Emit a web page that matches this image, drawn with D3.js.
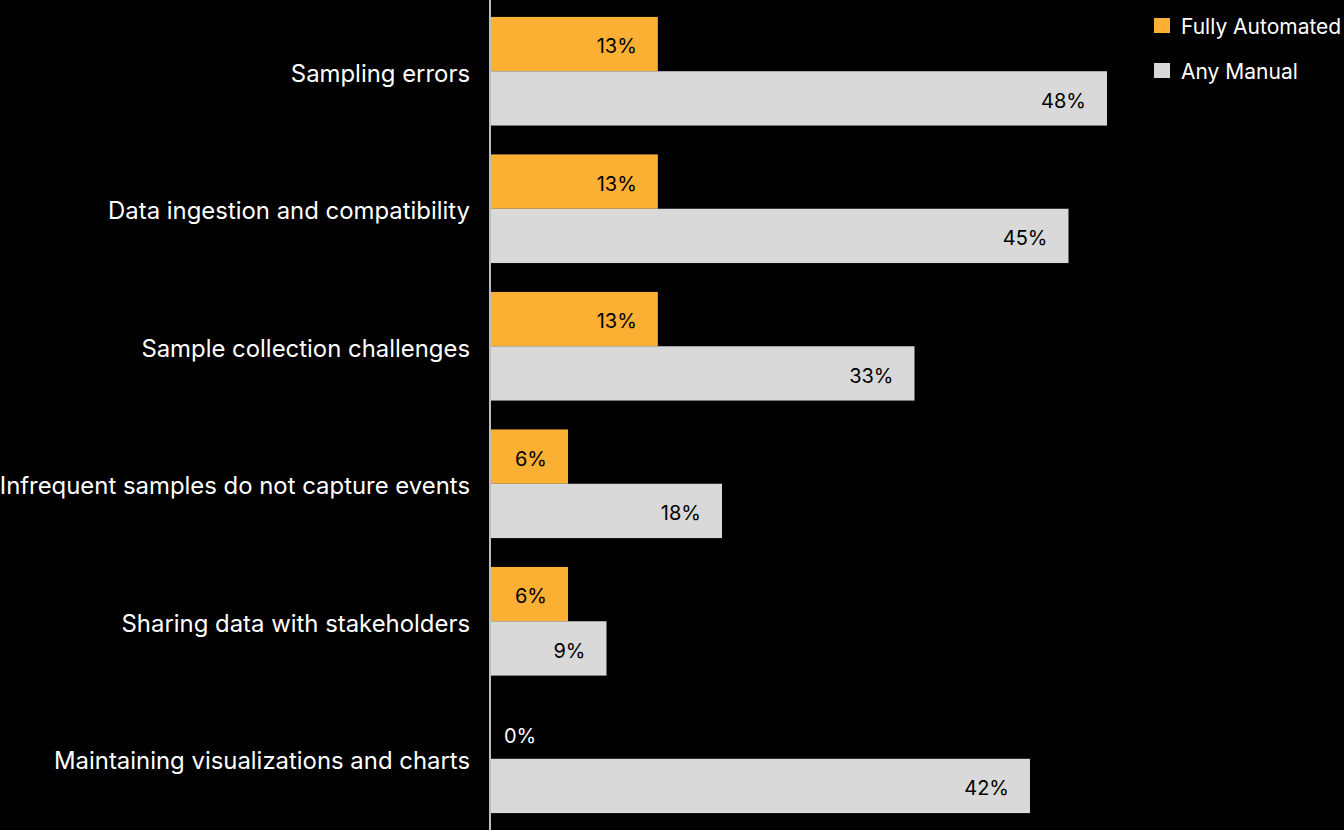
<!DOCTYPE html>
<html><head><meta charset="utf-8">
<script src="https://cdn.jsdelivr.net/npm/d3@7"></script>
<style>html,body{margin:0;padding:0;background:#000;}svg{display:block;font-family:Inter,"Noto Sans",sans-serif;}</style>
</head><body>
<svg id="chart" width="1344" height="830"></svg>
<script>
const categories = ["Sampling errors","Data ingestion and compatibility","Sample collection challenges","Infrequent samples do not capture events","Sharing data with stakeholders","Maintaining visualizations and charts"];
const seriesNames = ["Fully Automated","Any Manual"];
const fullyAutomated = [13,13,13,6,6,0];
const anyManual = [48,45,33,18,9,42];
const colors = ["#FBB034","#D9D9D9"];

const svg = d3.select("#chart");
const W = 1344, H = 830;
svg.append("rect").attr("width",W).attr("height",H).attr("fill","#000");

const data = categories.map((c,i)=>({cat:c, vals:[fullyAutomated[i], anyManual[i]]}));
const x = d3.scaleLinear().domain([0, d3.max(anyManual)]).range([491, 1107]);
const y = d3.scaleBand().domain(categories).range([0, H]).paddingInner(0.21).paddingOuter(0.123);
const y1 = d3.scaleBand().domain(seriesNames).range([0, y.bandwidth()]).padding(0);

const g = svg.selectAll("g.grp").data(data).join("g").attr("class","grp")
  .attr("transform", d=>`translate(0,${y(d.cat)})`);

g.selectAll("rect").data(d=>d.vals.map((v,j)=>({v, s:seriesNames[j], j})))
  .join("rect")
  .attr("x", x(0)).attr("y", d=>y1(d.s))
  .attr("width", d=>x(d.v)-x(0)).attr("height", y1.bandwidth())
  .attr("fill", d=>colors[d.j]);

g.selectAll("text.val").data(d=>d.vals.map((v,j)=>({v, s:seriesNames[j], j})))
  .join("text").attr("class","val")
  .attr("x", d=> d.v===0 ? x(0)+13 : x(d.v)-21)
  .attr("y", d=>y1(d.s)+y1.bandwidth()/2 + (d.v===0 ? 4 : 2))
  .attr("dy","0.36em")
  .attr("text-anchor", d=> d.v===0 ? "start" : "end")
  .attr("font-size",20)
  .attr("fill", d=> d.v===0 ? "#fff" : "#000")
  .text(d=>d.v+"%");

// category axis
const yAxis = d3.axisLeft(y).tickSize(0).tickPadding(20);
const ax = svg.append("g").attr("transform",`translate(490,2)`).call(yAxis);
ax.select(".domain").remove();
ax.selectAll("text").attr("font-size",23.9).attr("fill","#fff").attr("font-family","Inter, 'Noto Sans', sans-serif").attr("dy","0.36em");
svg.append("line").attr("x1",490).attr("x2",490).attr("y1",0).attr("y2",H).attr("stroke","#bdbdbd").attr("stroke-width",2);

// legend
const leg = svg.selectAll("g.leg").data(seriesNames).join("g").attr("class","leg")
  .attr("transform",(d,i)=>`translate(1154,${18+i*45})`);
leg.append("rect").attr("width",16).attr("height",15).attr("fill",(d,i)=>colors[i]);
leg.append("text").attr("x",27).attr("y",8).attr("dy","0.36em").attr("font-size",21).attr("fill","#fff").text(d=>d);
</script>
</body></html>
